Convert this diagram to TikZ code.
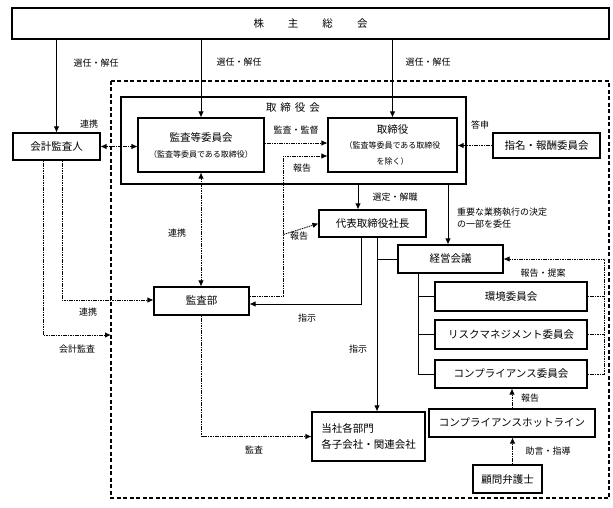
\documentclass[tikz,border=0pt]{standalone}
\usepackage{fontspec}
\setmainfont{Noto Sans CJK JP}
\usetikzlibrary{arrows.meta}
\newcommand{\subtxt}{\fontsize{8}{10}\selectfont}

\begin{document}
\begin{tikzpicture}[x=1pt, y=-1pt,
    box/.style={draw, line width=1.1pt, fill=white, inner sep=0pt, align=center, font=\fontsize{10.5}{13}\selectfont},
    board/.style={draw, line width=1.6pt, minimum width=345pt, minimum height=87pt},
    arr/.style={-{Latex[length=6pt,width=5.5pt]}, line width=0.9pt},
    line/.style={line width=0.9pt},
    darr/.style={-{Latex[length=6pt,width=5.5pt]}, line width=0.8pt, dash pattern=on 1.6pt off 0.8pt},
    ddarr/.style={{Latex[length=6pt,width=5.5pt]}-{Latex[length=6pt,width=5.5pt]}, line width=0.8pt, dash pattern=on 1.6pt off 0.8pt},
    dline/.style={line width=0.8pt, dash pattern=on 1.6pt off 0.8pt},
    lbl/.style={font=\fontsize{9}{11.5}\selectfont, inner sep=1pt}
]
\useasboundingbox (0,0) rectangle (613,508);

% outer frame
\draw[line width=1.3pt, dash pattern=on 4pt off 2.5pt] (111,81) rectangle (609,498);

\node[box, minimum width=597pt, minimum height=31pt] (soukai) at (310.5,23.5) {株\hspace{24pt}主\hspace{24pt}総\hspace{24pt}会};
\node[board] (bod) at (293.5,140.5) {};
\node[font=\fontsize{10.5}{13}\selectfont] (bodlbl) at (293,108) {取\hspace{4pt}締\hspace{4pt}役\hspace{4pt}会};
\node[box, minimum width=126pt, minimum height=54pt] (kansaiin) at (201,145) {監査等委員会\\[3pt]\subtxt （監査等委員である取締役）};
\node[box, minimum width=129pt, minimum height=54pt] (tori) at (392.5,145) {取締役\\[2pt]\subtxt （監査等委員である取締役\\[3pt]\subtxt を除く）};
\node[box, minimum width=87pt, minimum height=27pt] (kaikei) at (56.5,146.5) {会計監査人};
\node[box, minimum width=107pt, minimum height=25pt] (shimei) at (546.5,145.5) {指名・報酬委員会};
\node[box, minimum width=107pt, minimum height=27pt] (daihyo) at (372.5,223.5) {代表取締役社長};
\node[box, minimum width=105pt, minimum height=28pt] (keiei) at (450.5,259) {経営会議};
\node[box, minimum width=95pt, minimum height=28pt] (kansabu) at (201.5,301) {監査部};
\node[box, minimum width=152pt, minimum height=29pt] (kankyo) at (511,296.5) {環境委員会};
\node[box, minimum width=152pt, minimum height=29pt] (risk) at (511,334.5) {リスクマネジメント委員会};
\node[box, minimum width=152pt, minimum height=28pt] (comp) at (511,374) {コンプライアンス委員会};
\node[box, minimum width=166pt, minimum height=28pt] (hotline) at (512,423) {コンプライアンスホットライン};
\node[box, minimum width=69pt, minimum height=28pt] (bengoshi) at (507.5,479) {顧問弁護士};
\node[box, align=left, minimum width=113pt, minimum height=49pt] (bumon) at (368.5,436.5) {当社各部門\\[3pt]各子会社・関連会社};

\coordinate (audend) at (111,335);

% shareholders
\draw[arr] (kaikei.north |- soukai.south) -- (kaikei.north);
\draw[arr] (kansaiin.north |- soukai.south) -- (kansaiin.north);
\draw[arr] (tori.north |- soukai.south) -- (tori.north);
\node[lbl] (sen1) at (96,63) {選任・解任};
\node[lbl] (sen2) at (239,62) {選任・解任};
\node[lbl] (sen3) at (428,62) {選任・解任};

% board
\draw[ddarr] (kaikei.east) -- (kaikei.east -| kansaiin.west);
\node[lbl] (renkei1) at (89,124) {連携};
\draw[darr] ([yshift=2pt]kansaiin.east) -- ([yshift=2pt]kansaiin.east -| tori.west);
\node[lbl] (kantoku) at (296,130) {監査・監督};
\draw[darr] (shimei.west) -- (shimei.west -| tori.east);
\node[lbl] (toushin) at (480,125) {答申};

% reports from audit dept
\draw[darr] ([yshift=5pt]kansabu.east) -| ([xshift=-44pt,yshift=-11pt]tori.west) -- ([yshift=-11pt]tori.west);
\draw[darr] ([xshift=-44pt,yshift=-11pt]tori.west |- daihyo.west) -- (daihyo.west);
\node[lbl] (hou1) at (302,168) {報告};
\node[lbl] (hou2) at (299,236) {報告};

\draw[arr] ([xshift=-14.5pt]daihyo.north |- bod.south) -- ([xshift=-14.5pt]daihyo.north);
\node[lbl] (sentei) at (395,197) {選定・解職};
\draw[arr] ([xshift=-2.5pt]keiei.north |- bod.south) -- ([xshift=-2.5pt]keiei.north);
\node[lbl, align=left, anchor=west] (inin) at (456,218) {重要な業務執行の決定\\の一部を委任};

\draw[ddarr] (kansaiin.south) -- (kansaiin.south |- kansabu.north);
\node[lbl] (renkei2) at (177,233) {連携};
\draw[darr] ([xshift=5.5pt]kaikei.south) |- ([yshift=1pt]kansabu.west);
\node[lbl] (renkei3) at (88,312) {連携};
\draw[darr] ([xshift=-13.5pt]kaikei.south) |- (audend);
\node[lbl] (kaikeikansa) at (77,349) {会計監査};

% instructions
\draw[arr] ([xshift=-11.5pt]daihyo.south) |- ([yshift=-3pt]kansabu.east);
\node[lbl] (shiji1) at (307,318) {指示};
\draw[arr] ([xshift=4.5pt]daihyo.south) -- ([xshift=4.5pt]daihyo.south |- bumon.north);
\draw[line] ([xshift=4.5pt]daihyo.south |- keiei.west) -- (keiei.west);
\node[lbl] (shiji2) at (358,349) {指示};
\draw[darr] (kansabu.south) |- (bumon.west);
\node[lbl] (kansa) at (254,450) {監査};

% committees
\draw[line] ([xshift=-32.5pt]keiei.south) |- (comp.west);
\draw[line] ([xshift=-32.5pt]keiei.south |- kankyo.west) -- (kankyo.west);
\draw[line] ([xshift=-32.5pt]keiei.south |- risk.west) -- (risk.west);
\draw[darr] (comp.east) -| ([xshift=17pt]comp.east |- keiei.east) -- (keiei.east);
\draw[dline] (kankyo.east) -- ++(17,0);
\draw[dline] (risk.east) -- ++(17,0);
\node[lbl] (teian) at (543,273) {報告・提案};

\draw[darr] (hotline.north) -- (hotline.north |- comp.south);
\node[lbl] (hou3) at (530,398) {報告};
\draw[darr] ([xshift=5pt]bengoshi.north) -- ([xshift=5pt]bengoshi.north |- hotline.south);
\node[lbl] (jogen) at (548,451) {助言・指導};
\end{tikzpicture}
\end{document}
